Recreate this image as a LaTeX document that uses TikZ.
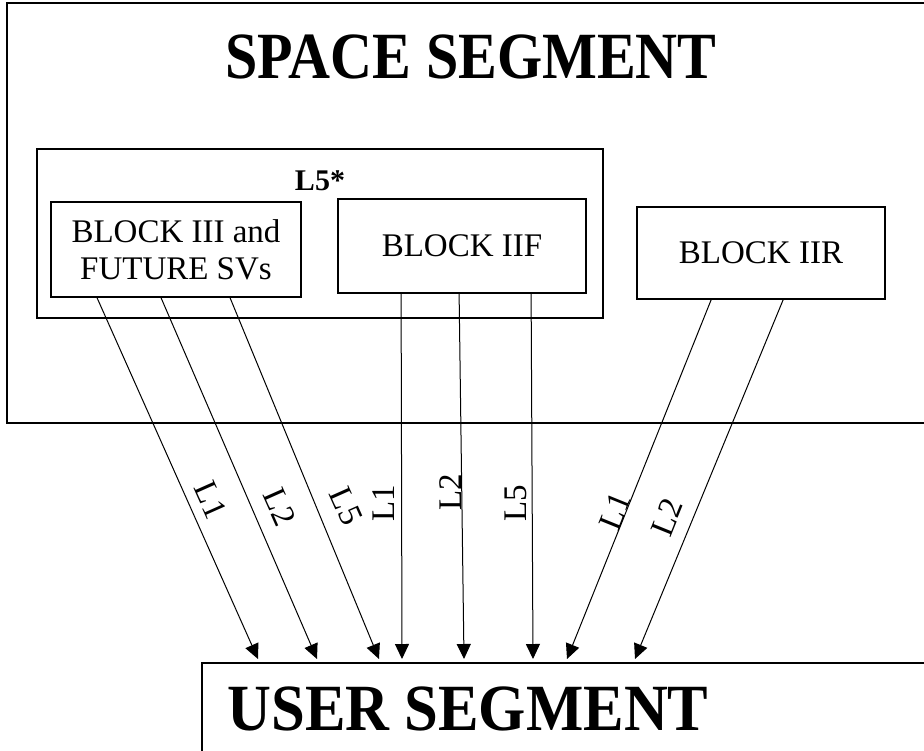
\documentclass[tikz,border=0pt]{standalone}
\usepackage{fontspec}
\setmainfont{Liberation Serif}
\usetikzlibrary{arrows.meta}
\begin{document}
\begin{tikzpicture}[x=1pt,y=-1pt,
  box/.style={draw,line width=1.8pt,inner sep=0pt,rectangle},
  frame/.style={draw,line width=2.2pt,inner sep=0pt,rectangle,anchor=north west},
  txt/.style={font=\fontsize{33}{37}\selectfont,align=center,inner sep=0pt},
  big/.style={font=\bfseries\fontsize{66}{70}\selectfont,inner sep=0pt,anchor=base},
  sig/.style={line width=1pt,-{Triangle[length=15pt,width=14pt]}},
  lab/.style={font=\fontsize{33}{33}\selectfont,inner sep=0pt},
]
\useasboundingbox (0,0) rectangle (924,750);
\clip (0,0) rectangle (924,750);
\fill[white] (0,0) rectangle (924,750);

% space segment frame
\node[frame,minimum width=940pt,minimum height=420pt] (ss) at (6,2) {};
\node[big] (sstext) at (471,78) {\scalebox{0.88}[1]{SPACE SEGMENT}};

% L5 group
\node[box,minimum width=566pt,minimum height=169pt] (l5) at (320,233.5) {};
\node[font=\bfseries\fontsize{30}{30}\selectfont,inner sep=0pt,anchor=base] (l5t) at (320,190) {L5*};
\node[box,txt,minimum width=250pt,minimum height=95pt] (b3) at (176,249.5) {BLOCK III and\\FUTURE SVs};
\node[box,txt,minimum width=248pt,minimum height=94pt] (bf) at (462,246) {BLOCK IIF};
\node[box,txt,minimum width=248pt,minimum height=92pt] (br) at (761,253) {BLOCK IIR};

% user segment
\node[frame,minimum width=760pt,minimum height=150pt] (us) at (201,662) {};
\node[big] (ustext) at (468,730) {\scalebox{0.92}[1]{USER SEGMENT}};

% connectors
\draw[sig] ([xshift=47pt]b3.south west) -- ([xshift=57pt,yshift=3pt]us.north west);
\draw[sig] ([xshift=111pt]b3.south west) -- ([xshift=116pt,yshift=3pt]us.north west);
\draw[sig] ([xshift=180pt]b3.south west) -- ([xshift=178pt,yshift=3pt]us.north west);
\draw[sig] ([xshift=64pt]bf.south west) -- ([xshift=201pt,yshift=3pt]us.north west);
\draw[sig] ([xshift=122pt]bf.south west) -- ([xshift=263pt,yshift=3pt]us.north west);
\draw[sig] ([xshift=194pt]bf.south west) -- ([xshift=332pt,yshift=3pt]us.north west);
\draw[sig] ([xshift=75pt]br.south west) -- ([xshift=366pt,yshift=3pt]us.north west);
\draw[sig] ([xshift=147pt]br.south west) -- ([xshift=434pt,yshift=3pt]us.north west);

% labels
\node[lab,rotate=-66] (a1) at (211,500) {L1};
\node[lab,rotate=-66] (a2) at (280,507) {L2};
\node[lab,rotate=-66] (a3) at (346,506) {L5};
\node[lab,rotate=90] (c1) at (384,503) {L1};
\node[lab,rotate=90] (c2) at (451,492) {L2};
\node[lab,rotate=90] (c3) at (516,503) {L5};
\node[lab,rotate=68] (d1) at (615,511) {L1};
\node[lab,rotate=68] (d2) at (667,517) {L2};
\end{tikzpicture}
\end{document}
